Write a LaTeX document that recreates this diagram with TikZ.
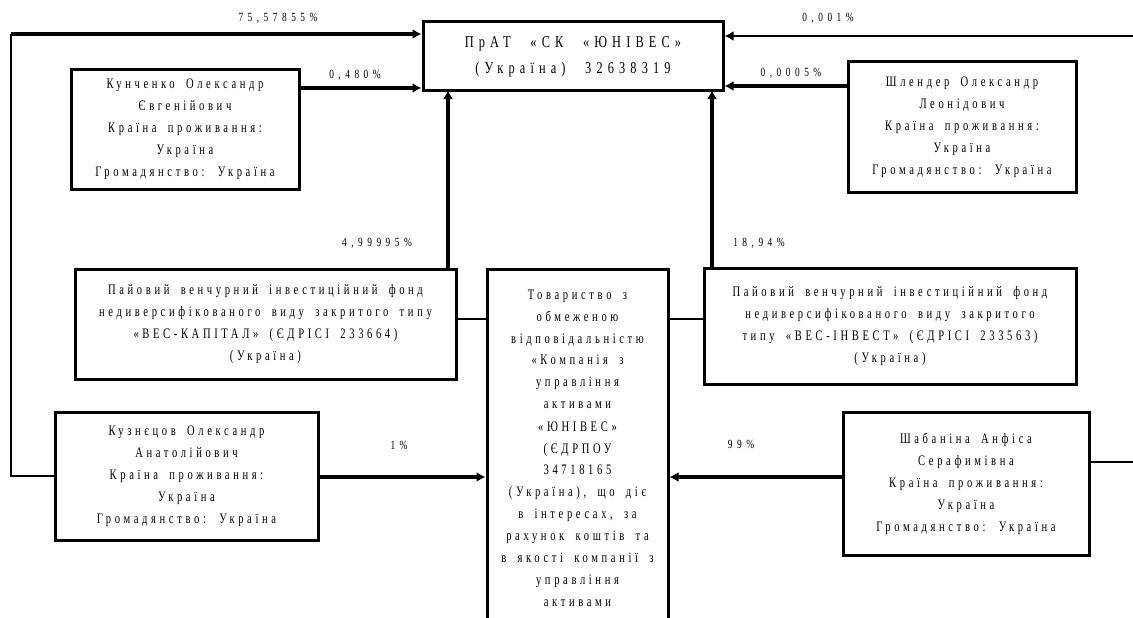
\documentclass[tikz,border=0pt]{standalone}
\usepackage{fontspec}
\usetikzlibrary{arrows.meta}
\newfontfamily\boxfont[FakeStretch=0.73,LetterSpace=25,WordSpace=1.8]{Liberation Serif}
\newfontfamily\topfont[FakeStretch=0.75,LetterSpace=31,WordSpace=2.4]{Liberation Serif}
\newfontfamily\labfont[FakeStretch=0.75,LetterSpace=36]{Liberation Serif}
\newcommand\bxf{\boxfont\fontsize{14.5pt}{22pt}\selectfont}
\newcommand\tpf{\topfont\fontsize{16.5pt}{26pt}\selectfont}
\newcommand\lbf{\labfont\fontsize{12.5pt}{13pt}\selectfont}
\tikzset{
  box/.style={draw, line width=3pt, align=center, inner sep=0pt, font=\bxf},
  arr/.style={line width=3.6pt, -{Latex[length=9pt,width=10pt]}},
  arrthin/.style={line width=2.6pt, -{Latex[length=9pt,width=10pt]}},
  thinline/.style={line width=2.2pt},
  lab/.style={font=\lbf, inner sep=0pt},
}
\begin{document}
\begin{tikzpicture}[x=1pt,y=-1pt]
\useasboundingbox (0,0) rectangle (1133,618);
\clip (0,0) rectangle (1133,618);
% boxes
\node[box, font=\tpf, minimum width=300pt, minimum height=69pt] (top) at (573,56.5)
  {ПрАТ «СК «ЮНІВЕС»\\(Україна) 32638319};
\node[box, minimum width=228pt, minimum height=119pt] (kun) at (185,129.5)
  {Кунченко Олександр\\Євгенійович\\Країна проживання:\\Україна\\Громадянство: Україна};
\node[box, minimum width=228pt, minimum height=130pt] (shl) at (962,127)
  {Шлендер Олександр\\Леонідович\\Країна проживання:\\Україна\\Громадянство: Україна};
\node[box, minimum width=381pt, minimum height=110pt] (fundL) at (265.5,324)
  {Пайовий венчурний інвестиційний фонд\\недиверсифікованого виду закритого типу\\«ВЕС-КАПІТАЛ» (ЄДРІСІ 233664)\\(Україна)};
\node[box, minimum width=372pt, minimum height=116pt] (fundR) at (890,326)
  {Пайовий венчурний інвестиційний фонд\\недиверсифікованого виду закритого\\типу «ВЕС-ІНВЕСТ» (ЄДРІСІ 233563)\\(Україна)};
\node[box, anchor=north, minimum width=181pt, inner ysep=20pt] (mid) at (577.5,268)
  {Товариство з\\обмеженою\\відповідальністю\\«Компанія з\\управління\\активами\\«ЮНІВЕС»\\(ЄДРПОУ\\34718165\\(Україна), що діє\\в інтересах, за\\рахунок коштів та\\в якості компанії з\\управління\\активами};
\node[box, minimum width=263pt, minimum height=128pt] (kuz) at (186.5,476)
  {Кузнєцов Олександр\\Анатолійович\\Країна проживання:\\Україна\\Громадянство: Україна};
\node[box, minimum width=246pt, minimum height=143pt] (shab) at (966,483.5)
  {Шабаніна Анфіса\\Серафимівна\\Країна проживання:\\Україна\\Громадянство: Україна};
% helper coordinates
\coordinate (lc1) at (11,476);
\coordinate (lc2) at (11,34);
\coordinate (rc1) at (1135,462);
\coordinate (rc2) at (1135,36);
\coordinate (tl) at (448,90);
\coordinate (tr) at (712,90);
\coordinate (ya) at (0,88);
\coordinate (yb) at (0,86);
\coordinate (yc) at (0,319);
\coordinate (yd) at (0,477);
% connectors
\draw[thinline] (kuz.west |- lc1) -- (lc1) -- (lc2);
\draw[arr] (lc2) -- (lc2 -| top.west);
\draw[thinline] (shab.east |- rc1) -- (rc1) -- (rc2);
\draw[arrthin] (rc2) -- (rc2 -| top.east);
\draw[arr] (kun.east |- ya) -- (top.west |- ya);
\draw[arr] (shl.west |- yb) -- (top.east |- yb);
\draw[arr] (tl |- fundL.north) -- (tl);
\draw[arr] (tr |- fundR.north) -- (tr);
\draw[thinline] (fundL.east |- yc) -- (mid.west |- yc);
\draw[thinline] (mid.east |- yc) -- (fundR.west |- yc);
\draw[arr] (kuz.east |- yd) -- (mid.west |- yd);
\draw[arr] (shab.west |- yd) -- (mid.east |- yd);
% labels
\node[lab] (l1) at (278,18) {75,57855\%};
\node[lab] (l2) at (355,75) {0,480\%};
\node[lab] (l3) at (828,18) {0,001\%};
\node[lab] (l4) at (791,73) {0,0005\%};
\node[lab] (l5) at (377,243) {4,99995\%};
\node[lab] (l6) at (759,243) {18,94\%};
\node[lab] (l7) at (399,445) {1\%};
\node[lab] (l8) at (741,444) {99\%};
\end{tikzpicture}
\end{document}
